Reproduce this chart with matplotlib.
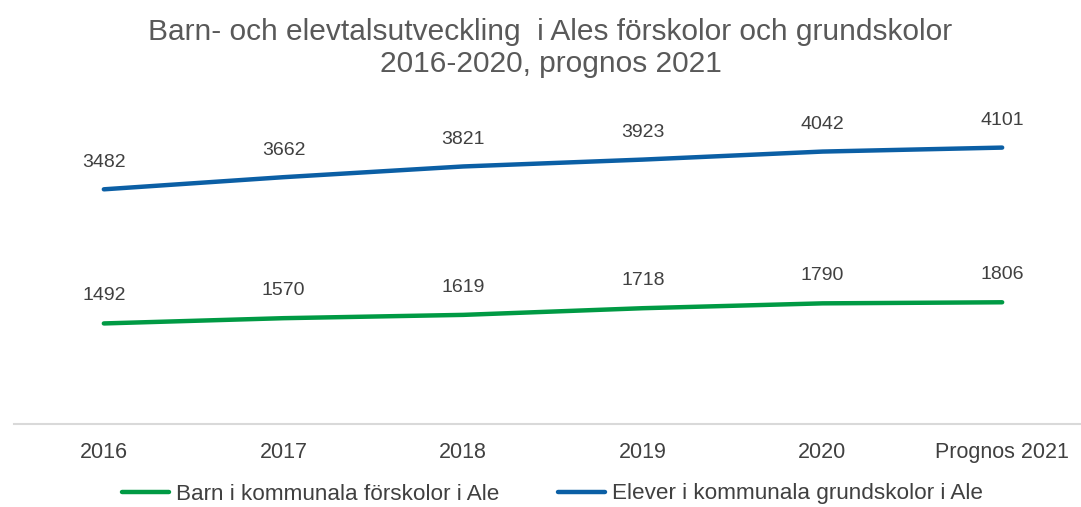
import matplotlib
matplotlib.use("Agg")
import matplotlib.pyplot as plt

categories = ["2016", "2017", "2018", "2019", "2020", "Prognos 2021"]
elever = [3482, 3662, 3821, 3923, 4042, 4101]
barn = [1492, 1570, 1619, 1718, 1790, 1806]
label_barn = "Barn i kommunala förskolor i Ale"
label_elever = "Elever i kommunala grundskolor i Ale"
title = "Barn- och elevtalsutveckling  i Ales förskolor och grundskolor\n2016-2020, prognos 2021"

plt.rcParams['font.family'] = ['Liberation Sans', 'DejaVu Sans']
W, H = 1081, 507
fig = plt.figure(figsize=(W/100, H/100), dpi=100)
left, right = 14/W, 1092/W
bottom, top = 1 - 424/H, 1 - 87/H
ax = fig.add_axes([left, bottom, right-left, top-bottom])

x = list(range(len(categories)))
green = "#009A44"
blue = "#0B5FA5"
txt = "#404040"
l1, = ax.plot(x, barn, color=green, lw=3.2, solid_capstyle='round', label=label_barn)
l2, = ax.plot(x, elever, color=blue, lw=3.2, solid_capstyle='round', label=label_elever)
for xi, v in zip(x, barn):
    ax.annotate(str(v), (xi, v), xytext=(0, 20), textcoords='offset points',
                ha='center', va='center', fontsize=14, color=txt)
for xi, v in zip(x, elever):
    ax.annotate(str(v), (xi, v), xytext=(0, 19.5), textcoords='offset points',
                ha='center', va='center', fontsize=14, color=txt)

ax.set_xlim(-0.5, len(categories) - 0.5)
ax.set_ylim(0, 5000)
ax.set_yticks([])
ax.set_xticks(x)
ax.set_xticklabels(categories, fontsize=15.5, color=txt)
ax.tick_params(axis='x', length=0, pad=13)
for s in ['top', 'right', 'left']:
    ax.spines[s].set_visible(False)
ax.spines['bottom'].set_color("#D9D9D9")
ax.spines['bottom'].set_linewidth(1.5)

fig.text(0.5 + 10/W, 1 - 48/H, title, ha='center', va='center', fontsize=21.5,
         color="#595959", linespacing=1.2)

leg = fig.legend(handles=[l1, l2], loc='center', bbox_to_anchor=(0.5 + 12/W, 1 - 494/H),
                 ncol=2, frameon=False, fontsize=16.2, handlelength=2.1, handletextpad=0.3,
                 columnspacing=2.6, labelcolor=txt)
fig.savefig("out.png", dpi=100)
